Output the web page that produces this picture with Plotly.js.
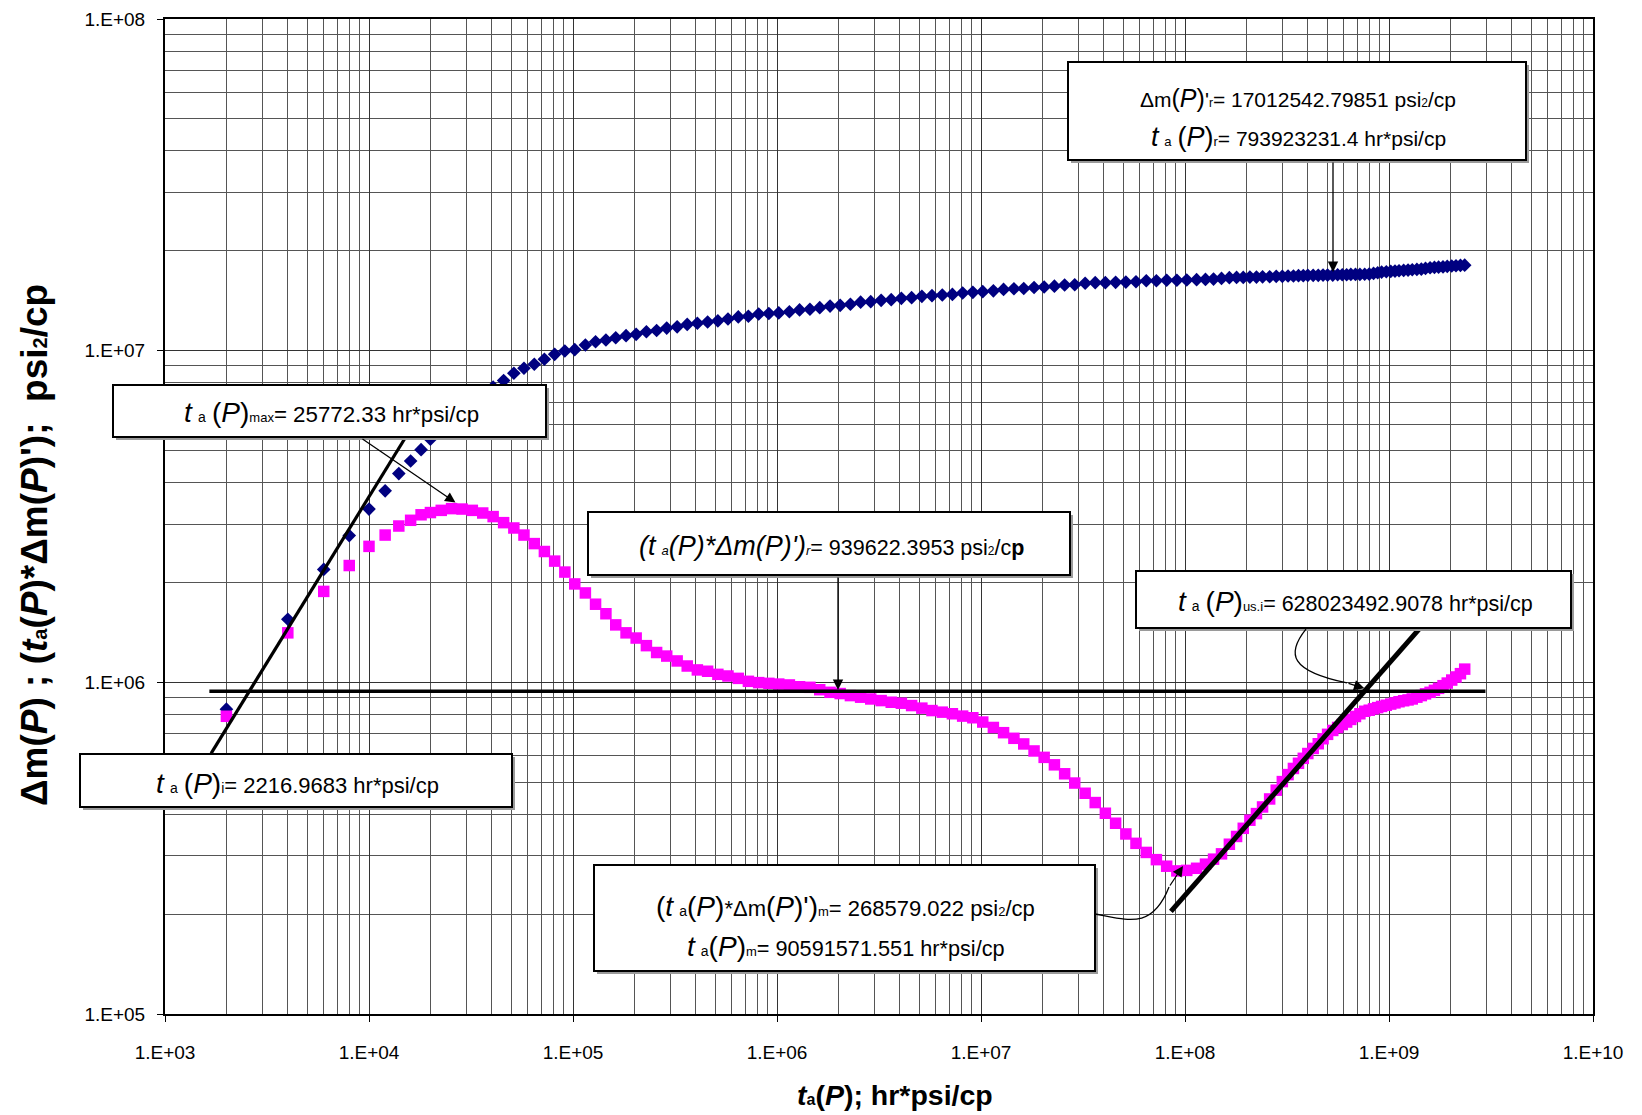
<!DOCTYPE html>
<html>
<head>
<meta charset="utf-8">
<script src="https://cdn.plot.ly/plotly-3.0.1.min.js"></script>
<style>html,body{margin:0;padding:0;background:#fff}#chart{width:1642px;height:1115px}</style>
</head>
<body>
<div id="chart"></div>
<script>
// ---- data ----
const ta = [2000, 4000, 6000, 8000, 10000, 12000, 14000, 16000, 18000, 20000,
  22600, 25400, 28600, 32100, 36100, 40600,
  45700, 51300, 57500, 64600, 72400, 81300, 91200,
  102000, 115000, 129000, 145000, 162000, 182000, 204000, 229000, 257000, 288000,
  324000, 363000, 407000, 457000, 513000, 575000, 646000, 724000, 813000, 912000,
  1.02e6, 1.15e6, 1.29e6, 1.45e6, 1.62e6, 1.82e6, 2.04e6, 2.29e6, 2.57e6, 2.88e6,
  3.24e6, 3.63e6, 4.07e6, 4.57e6, 5.13e6, 5.75e6, 6.46e6, 7.24e6, 8.13e6, 9.12e6,
  1.02e7, 1.15e7, 1.29e7, 1.45e7, 1.62e7, 1.82e7, 2.04e7, 2.29e7, 2.57e7, 2.88e7,
  3.24e7, 3.63e7, 4.07e7, 4.57e7, 5.13e7, 5.75e7, 6.46e7, 7.24e7, 8.13e7, 9.12e7,
  1.02e8, 1.14e8, 1.26e8, 1.38e8, 1.51e8, 1.65e8, 1.79e8, 1.93e8, 2.08e8, 2.24e8, 2.40e8,
  2.6e8, 2.8e8, 3.0e8, 3.2e8, 3.4e8, 3.6e8, 3.8e8, 4.0e8, 4.25e8, 4.5e8,
  4.75e8, 5.0e8, 5.3e8, 5.6e8, 5.9e8, 6.2e8, 6.5e8, 6.85e8, 7.2e8, 7.6e8,
  8.0e8, 8.4e8, 8.8e8, 9.2e8, 9.7e8, 1.02e9, 1.07e9, 1.12e9, 1.18e9, 1.24e9,
  1.3e9, 1.37e9, 1.44e9, 1.51e9, 1.59e9, 1.67e9, 1.75e9, 1.84e9, 1.93e9, 2.03e9,
  2.13e9, 2.24e9, 2.35e9];

const deltaM = [8.3e5, 1.55e6, 2.19e6, 2.77e6, 3.33e6, 3.78e6, 4.26e6, 4.65e6, 5.03e6, 5.41e6,
  5.82e6, 6.24e6, 6.64e6, 7.03e6, 7.40e6, 7.76e6,
  8.13e6, 8.55e6, 8.85e6, 9.10e6, 9.42e6, 9.75e6, 9.98e6,
  1.007e7, 1.04e7, 1.064e7, 1.077e7, 1.094e7, 1.11e7, 1.12e7, 1.14e7, 1.15e7, 1.17e7,
  1.18e7, 1.20e7, 1.21e7, 1.22e7, 1.23e7, 1.246e7, 1.264e7, 1.27e7, 1.29e7, 1.294e7,
  1.30e7, 1.31e7, 1.327e7, 1.333e7, 1.348e7, 1.363e7, 1.37e7, 1.38e7, 1.40e7, 1.405e7,
  1.418e7, 1.425e7, 1.438e7, 1.445e7, 1.458e7, 1.465e7, 1.472e7, 1.478e7, 1.492e7, 1.499e7,
  1.506e7, 1.515e7, 1.53e7, 1.537e7, 1.54e7, 1.55e7, 1.556e7, 1.565e7, 1.578e7, 1.58e7,
  1.597e7, 1.603e7, 1.603e7, 1.607e7, 1.61e7, 1.614e7, 1.625e7, 1.625e7, 1.63e7, 1.63e7,
  1.633e7, 1.637e7, 1.64e7, 1.644e7, 1.651e7, 1.66e7, 1.663e7, 1.663e7, 1.667e7, 1.667e7, 1.67e7,
  1.671e7, 1.675e7, 1.675e7, 1.679e7, 1.679e7, 1.683e7, 1.683e7, 1.687e7, 1.687e7, 1.687e7,
  1.69e7, 1.69e7, 1.69e7, 1.694e7, 1.694e7, 1.694e7, 1.698e7, 1.698e7, 1.698e7, 1.70e7,
  1.7013e7, 1.71e7, 1.718e7, 1.726e7, 1.73e7, 1.734e7, 1.738e7, 1.742e7, 1.746e7, 1.75e7,
  1.754e7, 1.758e7, 1.762e7, 1.77e7, 1.778e7, 1.782e7, 1.786e7, 1.79e7, 1.795e7, 1.80e7,
  1.803e7, 1.807e7, 1.81e7];

const derivative = [7.9e5, 1.41e6, 1.88e6, 2.25e6, 2.57e6, 2.78e6, 2.96e6, 3.08e6, 3.20e6, 3.25e6,
  3.30e6, 3.34e6, 3.33e6, 3.30e6, 3.24e6, 3.16e6,
  3.03e6, 2.92e6, 2.78e6, 2.62e6, 2.48e6, 2.32e6, 2.15e6,
  1.98e6, 1.86e6, 1.72e6, 1.61e6, 1.49e6, 1.41e6, 1.36e6, 1.29e6, 1.23e6, 1.20e6,
  1.16e6, 1.12e6, 1.09e6, 1.08e6, 1.057e6, 1.045e6, 1.028e6, 1.007e6, 9.98e5, 9.93e5,
  9.88e5, 9.82e5, 9.70e5, 9.66e5, 9.5e5, 9.33e5, 9.25e5, 9.12e5, 9.02e5, 8.91e5,
  8.81e5, 8.71e5, 8.65e5, 8.51e5, 8.36e5, 8.22e5, 8.13e5, 8.04e5, 7.91e5, 7.82e5,
  7.59e5, 7.31e5, 7.05e5, 6.78e5, 6.52e5, 6.21e5, 5.94e5, 5.64e5, 5.30e5, 4.97e5,
  4.63e5, 4.34e5, 4.03e5, 3.76e5, 3.49e5, 3.27e5, 3.07e5, 2.92e5, 2.79e5, 2.70e5,
  2.71e5, 2.75e5, 2.83e5, 2.93e5, 3.04e5, 3.25e5, 3.43e5, 3.63e5, 3.84e5, 4.02e5, 4.21e5,
  4.45e5, 4.73e5, 5.02e5, 5.27e5, 5.50e5, 5.70e5, 5.90e5, 6.10e5, 6.32e5, 6.53e5,
  6.76e5, 6.97e5, 7.16e5, 7.31e5, 7.46e5, 7.59e5, 7.73e5, 7.89e5, 8.04e5, 8.18e5,
  8.24e5, 8.32e5, 8.39e5, 8.46e5, 8.53e5, 8.60e5, 8.67e5, 8.74e5, 8.80e5, 8.85e5,
  8.91e5, 9.02e5, 9.12e5, 9.23e5, 9.33e5, 9.46e5, 9.59e5, 9.77e5, 9.95e5, 1.016e6,
  1.038e6, 1.062e6, 1.096e6];

// straight lines drawn on the chart
const radialX = [1650, 2.97e9];
const radialY = [939622.3953, 939622.3953];
const earlyX = [1683, 1.74e4];
const earlyY = [6.11e5, 6.31e6];
const lateX = [8.53e7, 1.48e9];
const lateY = [2.04e5, 1.50e6];

const xTickVals = [1e3, 1e4, 1e5, 1e6, 1e7, 1e8, 1e9, 1e10];
const xTickText = ['1.E+03', '1.E+04', '1.E+05', '1.E+06', '1.E+07', '1.E+08', '1.E+09', '1.E+10'];
const yTickVals = [1e5, 1e6, 1e7, 1e8];
const yTickText = ['1.E+05', '1.E+06', '1.E+07', '1.E+08'];

// ---- minor gridline positions (axis styling) ----
function minorVals(lo, hi) {
  const v = [];
  for (let e = lo; e < hi; e++) for (let d = 2; d <= 9; d++) v.push(d * Math.pow(10, e));
  return v;
}

const traces = [
  {x: ta, y: deltaM, type: 'scatter', mode: 'markers', name: 'Δm(P)',
   marker: {symbol: 'diamond', size: 10.5, color: '#000080', line: {width: 0}}},
  {x: ta, y: derivative, type: 'scatter', mode: 'markers', name: "ta(P)*Δm(P)'",
   marker: {symbol: 'square', size: 11.5, color: '#FF00FF', line: {width: 0}}},
  {x: radialX, y: radialY, type: 'scatter', mode: 'lines', line: {color: 'black', width: 3.5}},
  {x: earlyX, y: earlyY, type: 'scatter', mode: 'lines', line: {color: 'black', width: 3.2}},
  {x: lateX, y: lateY, type: 'scatter', mode: 'lines', line: {color: 'black', width: 5}}
];

// ---- layout helpers (positions in plot-area paper fractions) ----
const L = 165, T = 19, W = 1428, H = 995;
const px = X => (X - L) / W;
const py = Y => (T + H - Y) / H;

const boxes = [
  [1068, 62, 1526, 160],
  [113, 385, 546, 437],
  [588, 512, 1070, 575],
  [1136, 571, 1571, 628],
  [594, 865, 1095, 971],
  [80, 754, 512, 807]
];
const shapes = [];
boxes.forEach(b => {
  shapes.push({type: 'rect', xref: 'paper', yref: 'paper', layer: 'above',
    x0: px(b[0] + 3), x1: px(b[2] + 3), y0: py(b[3] + 3), y1: py(b[1] + 3),
    fillcolor: '#9a9a9a', line: {width: 0}});
  shapes.push({type: 'rect', xref: 'paper', yref: 'paper', layer: 'above',
    x0: px(b[0]), x1: px(b[2]), y0: py(b[3]), y1: py(b[1]),
    fillcolor: 'white', line: {color: 'black', width: 2}});
});
function curve(pts) {
  const p = pts.map(q => px(q[0]).toFixed(4) + ',' + py(q[1]).toFixed(4));
  return 'M' + p[0] + ' C' + p[1] + ' ' + p[2] + ' ' + p[3];
}
shapes.push({type: 'path', xref: 'paper', yref: 'paper', layer: 'above',
  path: curve([[1306, 629], [1286, 654], [1290, 671], [1347, 683]]), line: {color: 'black', width: 1.3}});
shapes.push({type: 'path', xref: 'paper', yref: 'paper', layer: 'above',
  path: curve([[1095, 914], [1128, 920], [1152, 930], [1169, 887]]), line: {color: 'black', width: 1.3}});

const S = (s, t) => '<span style="font-size:' + s + 'px">' + t + '</span>';
const FONT = 'Liberation Sans, Arial, sans-serif';
function label(X, Y, text, size) {
  return {xref: 'paper', yref: 'paper', x: px(X), y: py(Y), text: text, showarrow: false,
    xanchor: 'center', yanchor: 'middle', font: {family: FONT, size: size, color: 'black'}};
}
function arrow(tipX, tipY, tailX, tailY) {
  return {xref: 'paper', yref: 'paper', x: px(tipX), y: py(tipY), ax: tailX - tipX, ay: tailY - tipY,
    text: '', showarrow: true, arrowhead: 2, arrowsize: 1.6, arrowwidth: 1.3, arrowcolor: 'black'};
}

const annotations = [
  label(1298, 98, 'Δm' + S(25, '(<i>P</i>)') + "'" + S(12, 'r') + '= 17012542.79851 psi' + S(12, '2') + '/cp', 21),
  label(1298, 137, S(27, '<i>t</i>') + ' ' + S(13, 'a') + ' ' + S(27, '(<i>P</i>)') + S(13, 'r') + '= 793923231.4 hr*psi/cp', 21),
  label(331, 412, S(28, '<i>t</i>') + ' ' + S(14, 'a') + ' ' + S(28, '(<i>P</i>)') + S(13, 'max') + '= 25772.33 hr*psi/cp', 22.3),
  label(831, 546, '<i>' + S(27, '(t') + ' ' + S(13, 'a') + S(27, '(P)*Δm(P)\')') + S(13, 'r') + '</i>= 939622.3953 psi' + S(12, '2') + '/c<b>p</b>', 21.5),
  label(1355, 601, S(28, '<i>t</i>') + ' ' + S(14, 'a') + ' ' + S(28, '(<i>P</i>)') + S(13, 'us.i') + '= 628023492.9078 hr*psi/cp', 21.5),
  label(845, 906, S(28, '(<i>t</i>') + ' ' + S(14, 'a') + S(28, '(<i>P</i>)') + '*Δm' + S(28, '(<i>P</i>)\')') + S(13, 'm') + '= 268579.022 psi' + S(13, '2') + '/cp', 22),
  label(846, 946, S(28, '<i>t</i>') + ' ' + S(14, 'a') + S(28, '(<i>P</i>)') + S(13, 'm') + '= 90591571.551 hr*psi/cp', 21.7),
  label(297, 783, S(28, '<i>t</i>') + ' ' + S(14, 'a') + ' ' + S(28, '(<i>P</i>)') + S(14, 'i') + '= 2216.9683 hr*psi/cp', 22),
  arrow(1333, 272, 1333, 161),
  arrow(455.5, 502.6, 361, 438),
  arrow(838, 690, 838, 576),
  arrow(1364.4, 688.3, 1347, 683),
  arrow(1183, 866, 1169, 887),
  // axis titles
  {xref: 'paper', yref: 'paper', x: px(895), y: py(1095), showarrow: false, xanchor: 'center', yanchor: 'middle',
   text: '<b><i>t</i>' + S(16, 'a') + '(<i>P</i>); hr*psi/cp</b>', font: {family: FONT, size: 28.5, color: 'black'}},
  {xref: 'paper', yref: 'paper', x: px(34), y: py(545), showarrow: false, xanchor: 'center', yanchor: 'middle', textangle: -90,
   text: '<b>Δm(<i>P</i>) ; (<i>t</i>' + S(20, 'a') + '(<i>P</i>)*Δm(<i>P</i>)\');  psi' + S(20, '2') + '/cp</b>',
   font: {family: FONT, size: 37, color: 'black'}}
];

const axisCommon = {
  type: 'log', tickmode: 'array', ticks: 'outside', ticklen: 6, tickcolor: 'black', tickwidth: 1,
  tickfont: {family: FONT, size: 19, color: 'black'},
  showline: true, mirror: true, linecolor: 'black', linewidth: 2,
  showgrid: true, gridcolor: '#333', gridwidth: 1, zeroline: false
};

const layout = {
  width: 1642, height: 1115,
  margin: {l: 165, r: 49, t: 19, b: 101, pad: 0},
  paper_bgcolor: 'white', plot_bgcolor: 'white',
  font: {family: FONT, color: 'black'},
  showlegend: false,
  xaxis: Object.assign({}, axisCommon, {range: [3, 10], tickvals: xTickVals, ticktext: xTickText,
    ticklabelstandoff: 14,
    minor: {tickmode: 'array', tickvals: minorVals(3, 10), showgrid: true, gridcolor: '#555', gridwidth: 1, ticks: ''}}),
  yaxis: Object.assign({}, axisCommon, {range: [5, 8], tickvals: yTickVals, ticktext: yTickText,
    ticklabelstandoff: 8,
    minor: {tickmode: 'array', tickvals: minorVals(5, 8), showgrid: true, gridcolor: '#555', gridwidth: 1, ticks: ''}}),
  shapes: shapes,
  annotations: annotations
};

Plotly.newPlot('chart', traces, layout, {staticPlot: true, displayModeBar: false});
</script>
</body>
</html>
